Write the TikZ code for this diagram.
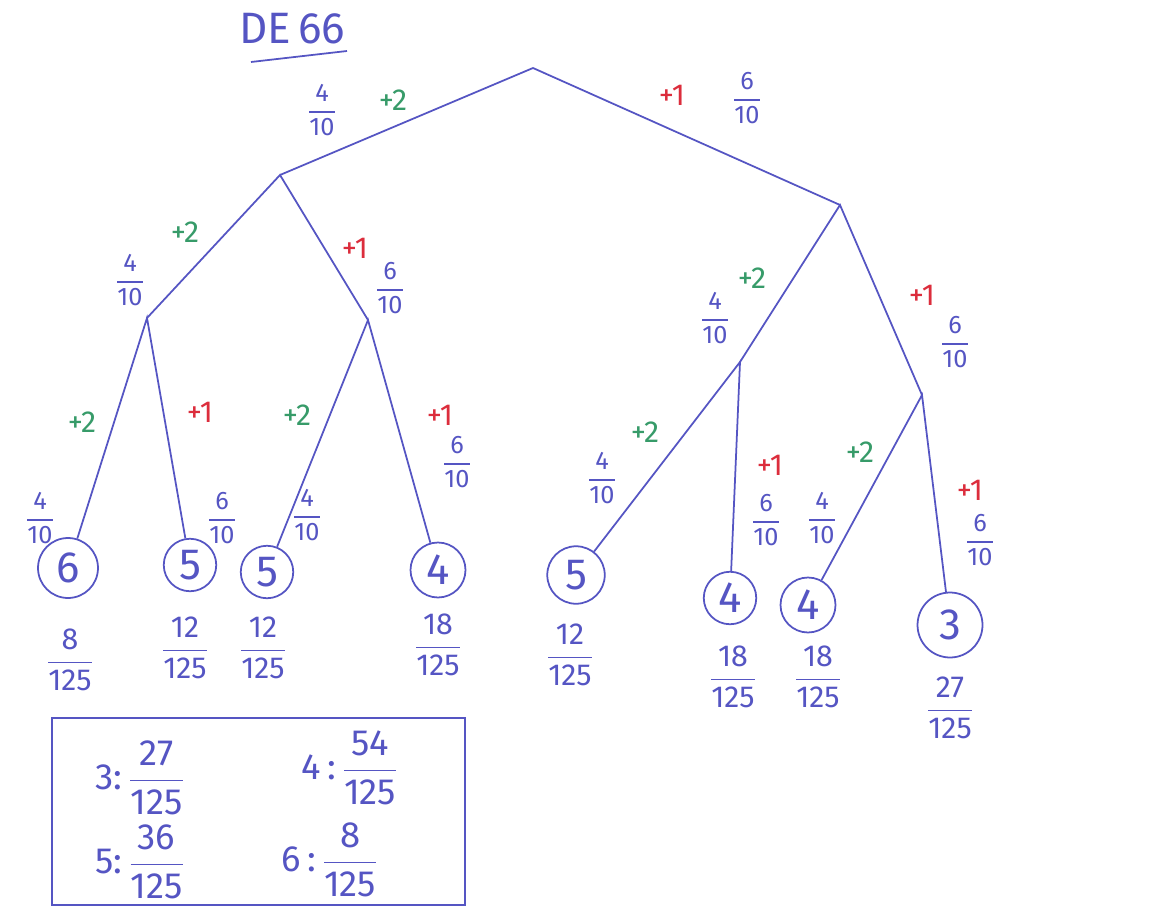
\documentclass[tikz,border=0pt]{standalone}
\usepackage{amsmath}
\usepackage{fontspec}
\setmainfont{Fira Sans}
\usepackage{xcolor}
\usetikzlibrary{positioning}
\definecolor{inkblue}{RGB}{85,85,195}
\definecolor{inkgreen}{RGB}{55,155,105}
\definecolor{inkred}{RGB}{220,45,60}
\newcommand{\fr}[2]{$\genfrac{}{}{0.6pt}{0}{\text{#1}}{\text{#2}}$}
\tikzset{
  ink/.style={draw=inkblue, line width=1pt},
  leaf/.style={circle, draw=inkblue, line width=1pt, text=inkblue, font=\Huge, inner sep=0pt, minimum size=#1},
  prob/.style={text=inkblue, font=\Large},
  endprob/.style={text=inkblue, font=\LARGE},
  plustwo/.style={text=inkgreen, font=\LARGE},
  plusone/.style={text=inkred, font=\LARGE},
}

\begin{document}
\begin{tikzpicture}[x=0.02cm, y=-0.02cm]
    \fill[white] (0,0) rectangle (1158,915);
    \useasboundingbox (0,0) rectangle (1158,915);
    \node[text=inkblue, font=\fontsize{25}{30}\selectfont] (title) at (292,29) {DE\,66};
    \draw[ink] (251,62) -- (347,51);

    \coordinate (root) at (533,68);
    \coordinate (a) at (280,175);
    \coordinate (b) at (840,205);
    \coordinate (aa) at (147,318);
    \coordinate (ab) at (368,320);
    \coordinate (ba) at (740,362);
    \coordinate (bb) at (922,395);

    \node[leaf=1.2cm] (aaa) at (68,568) {6};
    \node[leaf=1.05cm] (aab) at (190,565) {5};
    \node[leaf=1.05cm] (aba) at (267,572) {5};
    \node[leaf=1.1cm] (abb) at (438,570) {4};
    \node[leaf=1.15cm] (baa) at (576,575) {5};
    \node[leaf=1.05cm] (bab) at (730,598) {4};
    \node[leaf=1.1cm] (bba) at (808,605) {4};
    \node[leaf=1.3cm] (bbb) at (950,625) {3};

    \draw[ink] (a) -- (root) -- (b);
    \draw[ink] (aa) -- (a) -- (ab);
    \draw[ink] (ba) -- (b) -- (bb);
    \draw[ink] (aaa) -- (aa) -- (aab);
    \draw[ink] (aba) -- (ab) -- (abb);
    \draw[ink] (baa) -- (ba) -- (bab);
    \draw[ink] (bba) -- (bb) -- (bbb);

    \node[plustwo] (g1) at (393,100) {+2};
    \node[prob] (p1) at (322,110) {\fr{4}{10}};
    \node[plusone] (r1) at (672,95) {+1};
    \node[prob] (q1) at (747,98) {\fr{6}{10}};

    \node[plustwo] (g2) at (185,232) {+2};
    \node[prob] (p2) at (130,280) {\fr{4}{10}};
    \node[plusone] (r2) at (355,248) {+1};
    \node[prob] (q2) at (390,288) {\fr{6}{10}};
    \node[plustwo] (g3) at (752,278) {+2};
    \node[prob] (p3) at (715,318) {\fr{4}{10}};
    \node[plusone] (r3) at (922,295) {+1};
    \node[prob] (q3) at (955,342) {\fr{6}{10}};

    \node[plustwo] (g4) at (82,422) {+2};
    \node[prob] (p4) at (40,518) {\fr{4}{10}};
    \node[plusone] (r4) at (200,412) {+1};
    \node[prob] (q4) at (222,518) {\fr{6}{10}};
    \node[plustwo] (g5) at (297,415) {+2};
    \node[prob] (p5) at (307,515) {\fr{4}{10}};
    \node[plusone] (r5) at (440,415) {+1};
    \node[prob] (q5) at (457,462) {\fr{6}{10}};
    \node[plustwo] (g6) at (645,432) {+2};
    \node[prob] (p6) at (602,478) {\fr{4}{10}};
    \node[plusone] (r6) at (770,465) {+1};
    \node[prob] (q6) at (766,520) {\fr{6}{10}};
    \node[plustwo] (g7) at (860,452) {+2};
    \node[prob] (p7) at (822,518) {\fr{4}{10}};
    \node[plusone] (r7) at (970,490) {+1};
    \node[prob] (q7) at (980,540) {\fr{6}{10}};

    \node[endprob] (e1) at (70,660) {\fr{8}{125}};
    \node[endprob] (e2) at (185,648) {\fr{12}{125}};
    \node[endprob] (e3) at (263,648) {\fr{12}{125}};
    \node[endprob] (e4) at (438,645) {\fr{18}{125}};
    \node[endprob] (e5) at (570,655) {\fr{12}{125}};
    \node[endprob] (e6) at (733,677) {\fr{18}{125}};
    \node[endprob] (e7) at (818,677) {\fr{18}{125}};
    \node[endprob] (e8) at (950,708) {\fr{27}{125}};

    \draw[ink] (52,718) rectangle (465,905);
    \node[text=inkblue, font=\huge] (s3) at (140,778) {3:\,\fr{27}{125}};
    \node[text=inkblue, font=\huge] (s4) at (350,768) {4\,:\,\fr{54}{125}};
    \node[text=inkblue, font=\huge] (s5) at (140,862) {5:\,\fr{36}{125}};
    \node[text=inkblue, font=\huge] (s6) at (330,860) {6\,:\,\fr{8}{125}};
\end{tikzpicture}
\end{document}
